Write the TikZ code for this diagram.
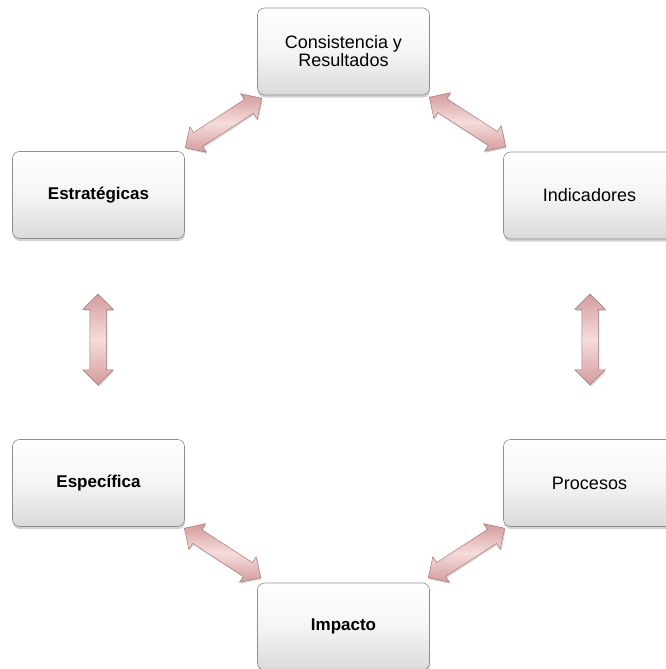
\documentclass[tikz,border=0pt]{standalone}
\usepackage{fontspec}
\newfontfamily\boxfont{Liberation Sans}
\usetikzlibrary{shapes.arrows,shadows}
\definecolor{arrowlight}{HTML}{F6DCDC}
\definecolor{arrowdark}{HTML}{D49C9C}
\definecolor{arrowline}{HTML}{A87878}
\definecolor{boxline}{HTML}{8E8E8E}
\definecolor{boxbottom}{HTML}{DADADA}
\tikzset{
  box/.style={rectangle, rounded corners=7pt, draw=boxline, line width=0.6pt,
    top color=white, bottom color=boxbottom, middle color=white!96!black,
    minimum width=172pt, minimum height=87pt, align=center, inner sep=2pt,
    font=\boxfont\fontsize{18}{18}\selectfont, text=black,
    drop shadow={opacity=0.35, shadow xshift=0.5pt, shadow yshift=-2.5pt}},
  boldbox/.style={box, font=\boxfont\bfseries\fontsize{17}{18}\selectfont},
  barrow/.style={double arrow, draw=arrowline, line width=0.5pt,
    top color=arrowdark, bottom color=arrowdark, middle color=arrowlight,
    inner xsep=0pt, inner ysep=8pt, minimum width=30pt,
    double arrow head extend=7pt,
    double arrow tip angle=90, minimum height=91pt,
    drop shadow={opacity=0.3, shadow xshift=1pt, shadow yshift=-1.5pt}}
}
\begin{document}
\begin{tikzpicture}[x=1pt,y=-1pt]
\useasboundingbox (0,0) rectangle (665,669);
\node[box] (cr)  at (343.5,51.5) {Consistencia y\\Resultados};
\node[boldbox] (est) at (98.5,195)   {Estratégicas};
\node[box] (ind) at (589.5,195.5) {Indicadores};
\node[boldbox] (esp) at (98.5,483)   {Específica};
\node[box] (pro) at (589.5,483)  {Procesos};
\node[boldbox] (imp) at (343.5,626.5) {Impacto};

\node[barrow, rotate=90] (a1) at (98,339.5) {};
\node[barrow, rotate=90] (a2) at (590,339.5) {};
\node[barrow, rotate=33] (a3) at (223.5,123) {};
\node[barrow, rotate=-33] (a4) at (467.5,122) {};
\node[barrow, rotate=-33] (a5) at (222.5,553) {};
\node[barrow, rotate=33] (a6) at (466.5,553) {};
\end{tikzpicture}
\end{document}
